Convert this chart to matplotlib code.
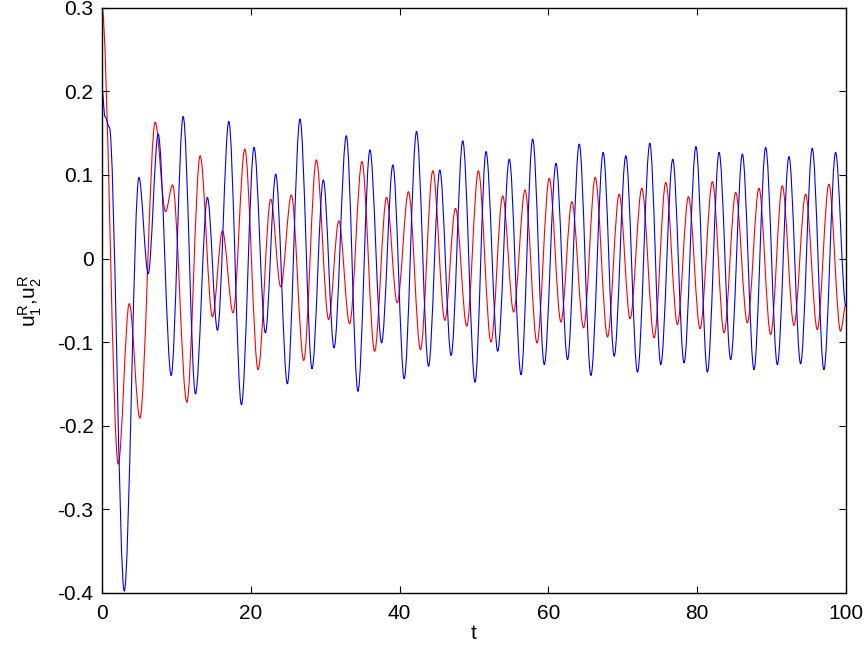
"""
Time traces of u1^R (red) and u2^R (blue), drawn as smooth curves through the
peaks and troughs read off the reference picture.
"""

import matplotlib
matplotlib.use("Agg")
import matplotlib.pyplot as plt
from matplotlib.path import Path
from matplotlib.patches import PathPatch


# ── Data: turning points (t, value) ─────────────────────────────────────────

t_red = [0.0, 2.19, 3.67, 5.10, 7.16, 8.55, 9.49, 11.41, 13.2, 14.85,
         16.2, 17.63, 19.2, 20.99, 22.69, 24.03, 25.46, 27.12, 28.82, 30.47,
         31.84, 33.29, 34.95, 36.65, 38.26, 39.69, 41.21, 42.82, 44.48, 46.09,
         47.52, 49.04, 50.6, 52.3, 53.87, 55.34, 56.87, 58.48, 60.13, 61.7,
         63.17, 64.74, 66.31, 67.96, 69.53, 71.0, 72.57, 74.23, 75.79, 77.36,
         78.84, 80.4, 82.06, 83.63, 85.19, 86.76, 88.32, 89.89, 91.46, 93.02,
         94.59, 96.16, 97.72, 99.29, 100.0]
u1_red = [0.300, -0.246, -0.054, -0.191, 0.163, 0.056, 0.088, -0.172, 0.123, -0.070,
          0.033, -0.065, 0.131, -0.133, 0.071, -0.034, 0.076, -0.122, 0.118, -0.073,
          0.045, -0.078, 0.116, -0.111, 0.073, -0.053, 0.080, -0.109, 0.105, -0.074,
          0.060, -0.081, 0.105, -0.100, 0.075, -0.064, 0.082, -0.101, 0.096, -0.076,
          0.068, -0.083, 0.097, -0.094, 0.077, -0.072, 0.084, -0.095, 0.091, -0.079,
          0.074, -0.084, 0.092, -0.089, 0.079, -0.077, 0.084, -0.091, 0.087, -0.080,
          0.077, -0.085, 0.089, -0.087, -0.055]

t_blue = [0.0, 0.4, 1.0, 3.0, 4.97, 6.22, 7.56, 9.31, 10.92, 12.57,
          14.18, 15.53, 17.05, 18.75, 20.45, 21.97, 23.36, 24.92, 26.62, 28.24,
          29.76, 31.2, 32.85, 34.41, 36.02, 37.59, 39.11, 40.63, 42.29, 43.90,
          45.42, 46.94, 48.5, 50.15, 51.63, 53.2, 54.76, 56.33, 57.9, 59.46,
          61.03, 62.59, 64.16, 65.73, 67.38, 68.86, 70.42, 71.99, 73.65, 75.12,
          76.73, 78.25, 79.85, 81.39, 82.96, 84.52, 86.09, 87.65, 89.22, 90.79,
          92.35, 93.92, 95.48, 97.05, 98.62, 100.0]
u2_blue = [0.205, 0.170, 0.157, -0.398, 0.097, -0.018, 0.149, -0.140, 0.170, -0.162,
           0.073, -0.086, 0.164, -0.175, 0.133, -0.089, 0.101, -0.150, 0.167, -0.132,
           0.094, -0.107, 0.147, -0.159, 0.130, -0.101, 0.112, -0.144, 0.152, -0.129,
           0.106, -0.116, 0.141, -0.148, 0.128, -0.111, 0.119, -0.139, 0.143, -0.127,
           0.114, -0.121, 0.137, -0.140, 0.127, -0.117, 0.123, -0.136, 0.138, -0.127,
           0.119, -0.125, 0.134, -0.136, 0.127, -0.121, 0.125, -0.133, 0.133, -0.127,
           0.122, -0.126, 0.132, -0.133, 0.127, -0.057]

y_ticks = [-0.4, -0.3, -0.2, -0.1, 0, 0.1, 0.2, 0.3]
y_tick_labels = ["-0.4", "-0.3", "-0.2", "-0.1", "0", "0.1", "0.2", "0.3"]
x_ticks = [0, 20, 40, 60, 80, 100]


# ── Helper: smooth path with flat tangents at each turning point ────────────

def _turning_path(ts, vs):
    verts = [(ts[0], vs[0])]
    codes = [Path.MOVETO]
    for i in range(len(ts) - 1):
        dt = (ts[i + 1] - ts[i]) / 3.0
        verts += [(ts[i] + dt, vs[i]), (ts[i + 1] - dt, vs[i + 1]), (ts[i + 1], vs[i + 1])]
        codes += [Path.CURVE4] * 3
    return Path(verts, codes)


# ── Figure ───────────────────────────────────────────────────────────────────

plt.rcParams["font.family"] = ["Liberation Sans", "DejaVu Sans"]
plt.rcParams["axes.unicode_minus"] = False

fig = plt.figure(figsize=(8.64, 6.5), dpi=100)
ax = fig.add_axes([0.118, 0.088, 0.861, 0.900])

for ts, vs, col in [(t_red, u1_red, "#ff0000"), (t_blue, u2_blue, "#0000ff")]:
    ax.add_patch(PathPatch(_turning_path(ts, vs), fill=False, edgecolor=col,
                           linewidth=0.8, clip_on=True))

ax.set_xlim(0, 100)
ax.set_ylim(-0.4, 0.3)
ax.set_xticks(x_ticks)
ax.set_yticks(y_ticks)
ax.set_yticklabels(y_tick_labels)
ax.tick_params(direction="in", top=True, right=True, length=5, width=0.8,
               labelsize=15)
ax.tick_params(axis="x", pad=8)
ax.tick_params(axis="y", pad=6)
for sp in ax.spines.values():
    sp.set_linewidth(1.0)

ax.set_xlabel("t", fontsize=15, labelpad=1)
ax.set_ylabel(r"$\mathregular{u_1^R{,}u_2^R}$", fontsize=15, labelpad=10)

plt.savefig("out.png", dpi=100)
plt.close()
